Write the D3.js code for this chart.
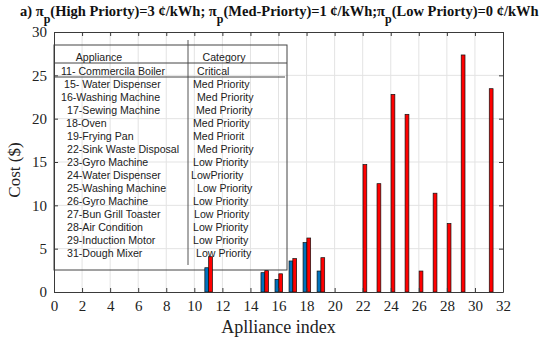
<!DOCTYPE html>
<html>
<head>
<meta charset="utf-8">
<script src="https://cdn.jsdelivr.net/npm/d3@7"></script>
<style>
  body { margin: 0; background: #fff; }
  svg { display: block; }
  .serif { font-family: 'Liberation Serif', 'Times New Roman', 'DejaVu Serif', serif; }
</style>
</head>
<body>
<script>
// appliance index on x, cost ($) for the two cases
const applianceIdx = [11, 15, 16, 17, 18, 19, 22, 23, 24, 25, 26, 27, 28, 29, 31];
const costBlue = [2.8, 2.23, 1.46, 3.58, 5.7, 2.42, 0, 0, 0, 0, 0, 0, 0, 0, 0];
const costRed = [4.07, 2.46, 2.1, 3.85, 6.23, 3.96, 14.7, 12.5, 22.8, 20.5, 2.42, 11.4, 7.9, 27.35, 23.46];

const xTicks = d3.range(0, 33, 2);
const yTicks = [0, 5, 10, 15, 20, 25, 30];

const tableNames = ['11-  Commercila Boiler', '15- Water Dispenser', '16-Washing Machine', '17-Sewing Machine',
  '18-Oven', '19-Frying Pan', '22-Sink Waste Disposal', '23-Gyro Machine', '24-Water Dispenser',
  '25-Washing Machine', '26-Gyro Machine', '27-Bun Grill Toaster', '28-Air Condition',
  '29-Induction Motor', '31-Dough Mixer'];
const tableCats = ['Critical', 'Med Priority', 'Med Priority', 'Med Priority', 'Med Priority', 'Med Priorit',
  'Med Priority', 'Low Priority', 'LowPriority', 'Low Priority', 'Low Priority', 'Low Priority',
  'Low Priority', 'Low Priority', 'Low Priority'];
// small left offsets, the table in the picture is not aligned
const nameX = [61, 64, 61, 67, 66, 67, 67, 67, 67, 67, 67, 67, 67, 67, 67];
const catX = [197, 193, 197, 196, 193, 193, 197, 193, 191, 197, 193, 194, 193, 193, 196];

const W = 550, H = 347;
const margin = { top: 32, right: 47, bottom: 55, left: 54 };
const width = W - margin.left - margin.right;
const height = H - margin.top - margin.bottom;
const serifFont = "'Liberation Serif', 'Times New Roman', serif";

const svg = d3.select('body').append('svg')
  .attr('width', W)
  .attr('height', H);

const g = svg.append('g')
  .attr('transform', 'translate(' + margin.left + ',' + margin.top + ')');

const x = d3.scaleLinear().domain([0, 32]).range([0, width]);
const y = d3.scaleLinear().domain([0, 30]).range([height, 0]);

// grid
g.append('g').selectAll('line.gx')
  .data(xTicks.slice(1, -1))
  .enter().append('line')
  .attr('x1', d => x(d)).attr('x2', d => x(d))
  .attr('y1', 0).attr('y2', height)
  .attr('stroke', '#e3e3e3').attr('stroke-width', 1);
g.append('g').selectAll('line.gy')
  .data(yTicks.slice(1, -1))
  .enter().append('line')
  .attr('x1', 0).attr('x2', width)
  .attr('y1', d => y(d)).attr('y2', d => y(d))
  .attr('stroke', '#e3e3e3').attr('stroke-width', 1);

// the appliance table (transparent, bars go over it)
const tbl = svg.append('g');
tbl.append('rect')
  .attr('x', 54).attr('y', 45)
  .attr('width', 233).attr('height', 225)
  .attr('fill', 'none')
  .attr('stroke', '#444').attr('stroke-width', 1);
tbl.append('line')
  .attr('x1', 188).attr('x2', 188).attr('y1', 40).attr('y2', 265)
  .attr('stroke', '#555').attr('stroke-width', 1);
tbl.append('line')
  .attr('x1', 54).attr('x2', 287).attr('y1', 63).attr('y2', 63)
  .attr('stroke', '#444');
tbl.append('line')
  .attr('x1', 54).attr('x2', 285).attr('y1', 77).attr('y2', 77)
  .attr('stroke', '#444');

const tFont = '"Liberation Sans", Arial, sans-serif';
const tSize = '10.6px';
tbl.append('text').attr('x', 99).attr('y', 61).attr('text-anchor', 'middle')
  .style('font-family', tFont).style('font-size', tSize).attr('fill', '#222').text('Appliance');
tbl.append('text').attr('x', 224).attr('y', 61).attr('text-anchor', 'middle')
  .style('font-family', tFont).style('font-size', tSize).attr('fill', '#222').text('Category');

const rowY = i => i === 0 ? 75 : 88 + (i - 1) * 13;
tbl.selectAll('text.name')
  .data(tableNames)
  .enter().append('text')
  .attr('x', (d, i) => nameX[i])
  .attr('y', (d, i) => rowY(i))
  .style('font-family', tFont).style('font-size', tSize).attr('fill', '#222')
  .text(d => d);
tbl.selectAll('text.cat')
  .data(tableCats)
  .enter().append('text')
  .attr('x', (d, i) => catX[i])
  .attr('y', (d, i) => rowY(i))
  .style('font-family', tFont).style('font-size', tSize).attr('fill', '#222')
  .text(d => d);

// bars
const bars = svg.append('g')
  .attr('transform', 'translate(' + margin.left + ',' + margin.top + ')');
const bw = 3.8;
bars.selectAll('rect.blue')
  .data(applianceIdx)
  .enter().append('rect')
  .attr('x', d => x(d) - bw + 0.3)
  .attr('y', (d, i) => y(costBlue[i]))
  .attr('width', bw)
  .attr('height', (d, i) => height - y(costBlue[i]))
  .attr('fill', '#0072bd')
  .attr('stroke', '#111').attr('stroke-width', 0.7);

bars.selectAll('rect.red')
  .data(applianceIdx)
  .enter().append('rect')
  .attr('x', d => x(d) + 0.3)
  .attr('y', (d, i) => y(costRed[i]))
  .attr('width', bw)
  .attr('height', (d, i) => height - y(costRed[i]))
  .attr('fill', '#ff0000')
  .attr('stroke', '#111').attr('stroke-width', 0.7);

// axes, matlab style box with inward ticks
const ax = svg.append('g')
  .attr('transform', 'translate(' + margin.left + ',' + margin.top + ')');
const axisCol = '#3a3a3a';
const xAxis = d3.axisBottom(x).tickValues(xTicks).tickSizeInner(-4).tickSizeOuter(0).tickPadding(8);
const yAxis = d3.axisLeft(y).tickValues(yTicks).tickSizeInner(-4).tickSizeOuter(0).tickPadding(7);

const gx = ax.append('g').attr('transform', 'translate(0,' + height + ')').call(xAxis);
const gy = ax.append('g').call(yAxis);
ax.append('g').call(d3.axisTop(x).tickValues(xTicks).tickSizeInner(-4).tickSizeOuter(0).tickFormat(''));
ax.append('g').attr('transform', 'translate(' + width + ',0)')
  .call(d3.axisRight(y).tickValues(yTicks).tickSizeInner(-4).tickSizeOuter(0).tickFormat(''));

ax.selectAll('.domain').attr('stroke', axisCol);
ax.selectAll('.tick line').attr('stroke', axisCol);
gx.attr('font-family', serifFont).attr('font-size', 15);
gy.attr('font-family', serifFont).attr('font-size', 15);
ax.selectAll('.tick text')
  .attr('fill', '#222')
  .style('font-family', serifFont)
  .style('font-size', '15px');

// axis titles
svg.append('text')
  .style('font-family', serifFont)
  .attr('x', margin.left + width / 2)
  .attr('y', 333)
  .attr('text-anchor', 'middle')
  .style('font-size', '18px')
  .attr('fill', '#222')
  .text('Aplliance index');

svg.append('text')
  .style('font-family', serifFont)
  .attr('transform', 'translate(20,170) rotate(-90)')
  .attr('text-anchor', 'middle')
  .style('font-size', '17px')
  .attr('fill', '#222')
  .text('Cost ($)');

// title with subscripts
const title = svg.append('text')
  .style('font-family', serifFont)
  .attr('x', 20)
  .attr('y', 16)
  .style('font-size', '14.5px')
  .style('font-weight', 'bold')
  .attr('fill', '#111');
const parts = [
  ['a) π', 0], ['p', 7], ['(High Priorty)=3 ¢/kWh; π', -7], ['p', 7],
  ['(Med-Priorty)=1 ¢/kWh;π', -7], ['p', 7], ['(Low Priorty)=0 ¢/kWh', -7]
];
parts.forEach(function(p) {
  title.append('tspan')
    .attr('dy', p[1])
    .style('font-size', p[0] === 'p' ? '12px' : null)
    .text(p[0]);
});
</script>
</body>
</html>
